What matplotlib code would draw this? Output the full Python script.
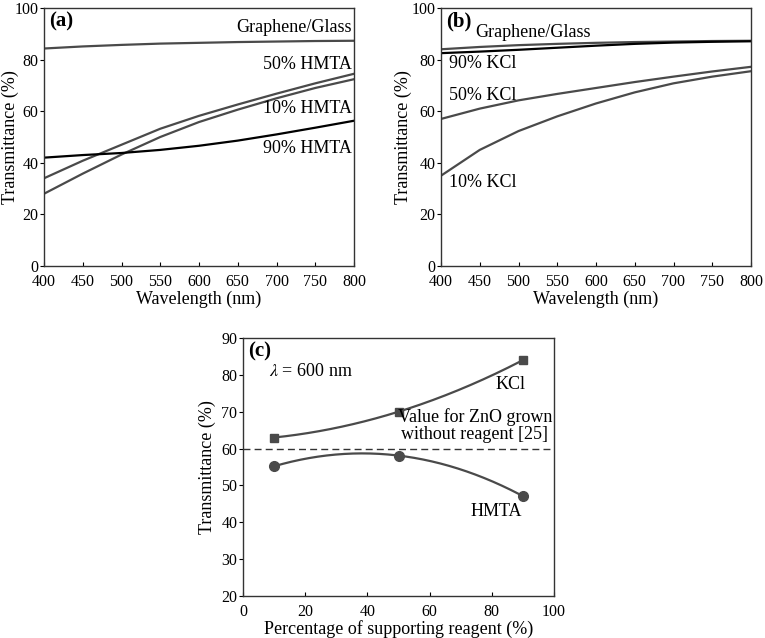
import numpy as np
import matplotlib
matplotlib.use("Agg")
import matplotlib.pyplot as plt

plt.rcParams['font.family'] = ['Liberation Serif', 'DejaVu Serif']
plt.rcParams['mathtext.fontset'] = 'stix'

# ---------------- data ----------------
wl = [400, 450, 500, 550, 600, 650, 700, 750, 800]

a_glass = [84.3, 85.1, 85.7, 86.2, 86.5, 86.8, 87.0, 87.2, 87.3]
a_hmta50 = [34.0, 40.8, 47.0, 53.2, 58.2, 62.6, 66.8, 70.8, 74.5]
a_hmta10 = [28.0, 35.8, 43.2, 50.0, 55.8, 60.6, 65.0, 69.0, 72.4]
a_hmta90 = [42.0, 43.0, 43.8, 45.0, 46.6, 48.6, 51.0, 53.6, 56.3]

b_glass = [84.0, 84.9, 85.6, 86.1, 86.5, 86.8, 87.0, 87.2, 87.3]
b_kcl90 = [82.5, 83.1, 83.8, 84.6, 85.4, 86.1, 86.6, 86.9, 87.1]
b_kcl50 = [57.0, 61.0, 64.2, 66.7, 69.0, 71.3, 73.4, 75.4, 77.2]
b_kcl10 = [35.0, 45.0, 52.3, 58.0, 63.0, 67.3, 70.8, 73.4, 75.5]

pct = [10, 50, 90]
c_kcl = [63.0, 70.0, 84.0]
c_hmta = [55.2, 58.1, 47.1]
ref_value = 60

W, H = 765, 638
fig = plt.figure(figsize=(W / 100, H / 100), dpi=100)

def ax_px(l, t, r, b):
    return fig.add_axes([l / W, 1 - b / H, (r - l) / W, (b - t) / H])

gray = '#4a4a4a'
FS = 13
TFS = 11.5

def style(ax, left_px, ylab_right_px):
    ax.tick_params(axis='x', direction='in', length=3, pad=6, labelsize=TFS)
    ax.tick_params(axis='y', direction='out', length=3, pad=1, labelsize=TFS)
    for s in ax.spines.values():
        s.set_linewidth(1.0)
        s.set_color('#333333')
    ax.set_ylabel('Transmittance (%)', fontsize=FS)
    ax.yaxis.set_label_coords((ylab_right_px - left_px) / 310.0, 0.5)

# ---------------- (a) ----------------
ax = ax_px(44, 8, 354, 266)
for ys, c in [(a_glass, gray), (a_hmta50, gray), (a_hmta10, gray), (a_hmta90, 'black')]:
    ax.plot(wl, ys, color=c, lw=1.6)
ax.set_xlim(400, 800)
ax.set_ylim(0, 100)
ax.set_xticks(range(400, 801, 50))
ax.set_yticks(range(0, 101, 20))
style(ax, 44, 19)
ax.set_xlabel('Wavelength (nm)', fontsize=FS, labelpad=0)
ax.text(0.015, 0.985, '(a)', transform=ax.transAxes, fontsize=FS + 2, fontweight='bold', va='top', ha='left')
ax.text(797, 92.6, 'Graphene/Glass', fontsize=FS, ha='right', va='center')
ax.text(797, 78.0, '50% HMTA', fontsize=FS, ha='right', va='center')
ax.text(797, 61.0, '10% HMTA', fontsize=FS, ha='right', va='center')
ax.text(797, 45.6, '90% HMTA', fontsize=FS, ha='right', va='center')

# ---------------- (b) ----------------
ax = ax_px(441, 8, 751, 266)
for ys, c in [(b_glass, gray), (b_kcl90, 'black'), (b_kcl50, gray), (b_kcl10, gray)]:
    ax.plot(wl, ys, color=c, lw=1.6)
ax.set_xlim(400, 800)
ax.set_ylim(0, 100)
ax.set_xticks(range(400, 801, 50))
ax.set_yticks(range(0, 101, 20))
style(ax, 441, 412)
ax.set_xlabel('Wavelength (nm)', fontsize=FS, labelpad=0)
ax.text(0.015, 0.985, '(b)', transform=ax.transAxes, fontsize=FS + 2, fontweight='bold', va='top', ha='left')
ax.text(444, 90.5, 'Graphene/Glass', fontsize=FS, ha='left', va='center')
ax.text(410, 78.5, '90% KCl', fontsize=FS, ha='left', va='center')
ax.text(410, 66.0, '50% KCl', fontsize=FS, ha='left', va='center')
ax.text(410, 32.5, '10% KCl', fontsize=FS, ha='left', va='center')

# ---------------- (c) ----------------
ax = ax_px(243, 338, 554, 596)
xs = np.linspace(10, 90, 200)
pk = np.polyfit(pct, c_kcl, 2)
ph = np.polyfit(pct, c_hmta, 2)
ax.plot(xs, np.polyval(pk, xs), color=gray, lw=1.6)
ax.plot(xs, np.polyval(ph, xs), color=gray, lw=1.6)
ax.plot(pct, c_kcl, 's', color=gray, ms=6)
ax.plot(pct, c_hmta, 'o', color=gray, ms=7)
ax.axhline(ref_value, color='#333333', lw=1.0, ls=(0, (5, 3)))
ax.set_xlim(0, 100)
ax.set_ylim(20, 90)
ax.set_xticks(range(0, 101, 20))
ax.set_yticks(range(20, 91, 10))
style(ax, 243, 216)
ax.set_xlabel('Percentage of supporting reagent (%)', fontsize=FS, labelpad=0)
ax.text(0.015, 0.985, '(c)', transform=ax.transAxes, fontsize=FS + 2, fontweight='bold', va='top', ha='left')
ax.text(8.5, 80.8, r'$\lambda$ = 600 nm', fontsize=FS, ha='left', va='center')
ax.text(86, 77.5, 'KCl', fontsize=FS, ha='center', va='center')
ax.text(74.5, 66.2, 'Value for ZnO grown\nwithout reagent [25]', fontsize=FS, ha='center', va='center',
        multialignment='center', linespacing=1.0)
ax.text(81.5, 43.0, 'HMTA', fontsize=FS, ha='center', va='center')

fig.savefig('out.png', dpi=100)
